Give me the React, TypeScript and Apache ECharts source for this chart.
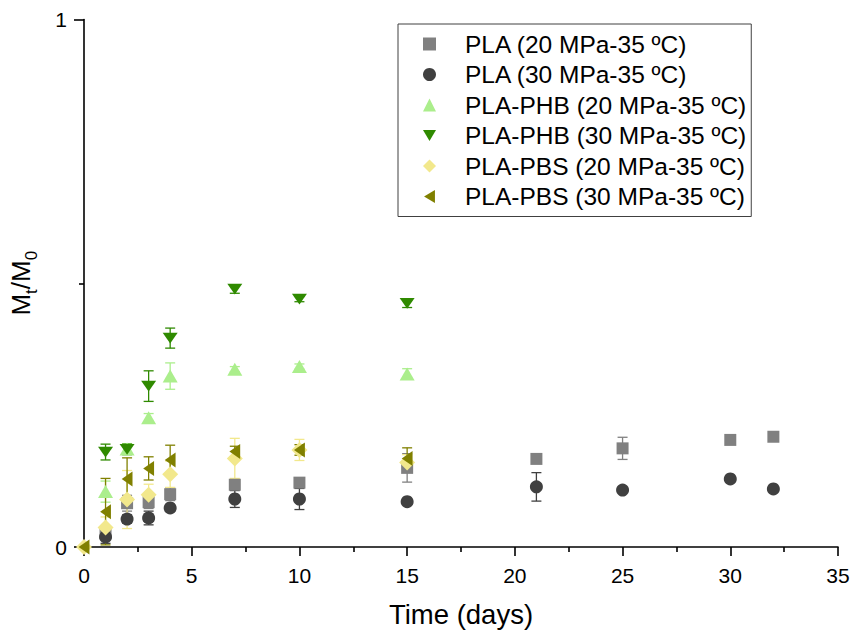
import React, { useEffect, useRef } from "react";
import * as echarts from "echarts";

const FONT = '"Liberation Sans", Arial, Helvetica, sans-serif';

// Times (days)
const timePLA = [1, 2, 3, 4, 7, 10, 15, 21, 25, 30, 32];
const timeBlend = [1, 2, 3, 4, 7, 10, 15];
const timePBS = [0, 1, 2, 3, 4, 7, 10, 15];

// Series values (Mt/M0) and error bars
const pla20 = [0.027, 0.083, 0.085, 0.1, 0.118, 0.122, 0.15, 0.167, 0.187, 0.203, 0.209];
const pla20Err = [0.01, 0.015, 0.012, 0.012, 0.005, 0.005, 0.027, 0.003, 0.021, 0.003, 0.005];

const pla30 = [0.019, 0.053, 0.055, 0.074, 0.091, 0.091, 0.086, 0.114, 0.108, 0.129, 0.11];
const pla30Err = [0.012, 0.008, 0.013, 0.005, 0.016, 0.02, 0.005, 0.027, 0.004, 0.005, 0.004];

const phb20 = [0.105, 0.186, 0.245, 0.324, 0.337, 0.342, 0.328];
const phb20Err = [0.02, 0.01, 0.008, 0.025, 0.005, 0.005, 0.01];

const phb30 = [0.18, 0.185, 0.305, 0.396, 0.489, 0.47, 0.462];
const phb30Err = [0.015, 0.01, 0.029, 0.019, 0.008, 0.005, 0.008];

const pbs20 = [0, 0.037, 0.09, 0.099, 0.138, 0.168, 0.184, 0.16];
const pbs20Err = [0, 0.02, 0.055, 0.02, 0.025, 0.038, 0.02, 0.015];

const pbs30 = [0, 0.067, 0.129, 0.149, 0.165, 0.181, 0.184, 0.168];
const pbs30Err = [0, 0.063, 0.04, 0.022, 0.028, 0.01, 0.01, 0.02];

const seriesNames = [
  "PLA (20 MPa-35 ºC)",
  "PLA (30 MPa-35 ºC)",
  "PLA-PHB (20 MPa-35 ºC)",
  "PLA-PHB (30 MPa-35 ºC)",
  "PLA-PBS (20 MPa-35 ºC)",
  "PLA-PBS (30 MPa-35 ºC)",
];

const xTicks = { min: 0, max: 35, interval: 5 };
const yTicks = { min: 0, max: 1, interval: 1 };

const TRI_DOWN = "path://M0,0 L12,0 L6,10 Z";
const TRI_LEFT = "path://M10,0 L10,12 L0,6 Z";

function buildSeries(
  name: string,
  times: number[],
  vals: number[],
  errs: number[],
  color: string,
  symbol: string,
  size: number | number[]
) {
  const errData: number[][] = [];
  times.forEach((t, i) => {
    if (errs[i] > 0) errData.push([t, vals[i] - errs[i], vals[i] + errs[i]]);
  });
  const err = {
    type: "custom",
    name: name + " err",
    clip: false,
    data: errData,
    encode: { x: 0, y: [1, 2] },
    renderItem: (params: any, api: any) => {
      const x = api.value(0);
      const lo = api.coord([x, api.value(1)]);
      const hi = api.coord([x, api.value(2)]);
      const hw = 5;
      const st = { stroke: color, lineWidth: 1.3 };
      return {
        type: "group",
        children: [
          { type: "line", shape: { x1: lo[0], y1: lo[1], x2: hi[0], y2: hi[1] }, style: st },
          { type: "line", shape: { x1: lo[0] - hw, y1: lo[1], x2: lo[0] + hw, y2: lo[1] }, style: st },
          { type: "line", shape: { x1: hi[0] - hw, y1: hi[1], x2: hi[0] + hw, y2: hi[1] }, style: st },
        ],
      };
    },
  };
  const sc = {
    type: "scatter",
    name,
    symbol,
    symbolSize: size,
    symbolKeepAspect: true,
    itemStyle: { color, opacity: 1 },
    data: times.map((t, i) => [t, vals[i]]),
    clip: false,
  };
  return [err, sc];
}

export default function App() {
  const ref = useRef<HTMLDivElement>(null);
  useEffect(() => {
    if (!ref.current) return;
    const chart = echarts.init(ref.current, undefined, { renderer: "svg" });
    const series = [
      ...buildSeries(seriesNames[0], timePLA, pla20, pla20Err, "#808080", "rect", 12),
      ...buildSeries(seriesNames[1], timePLA, pla30, pla30Err, "#404040", "circle", 13),
      ...buildSeries(seriesNames[2], timeBlend, phb20, phb20Err, "#abee8c", "triangle", [15, 13]),
      ...buildSeries(seriesNames[3], timeBlend, phb30, phb30Err, "#2f8a00", TRI_DOWN, [15, 13]),
      ...buildSeries(seriesNames[4], timePBS, pbs20, pbs20Err, "#f2e88c", "diamond", 16),
      ...buildSeries(seriesNames[5], timePBS, pbs30, pbs30Err, "#808000", TRI_LEFT, [13, 15]),
    ];
    const axisLine = { show: true, lineStyle: { color: "#000", width: 1.6 } };
    chart.setOption({
      animation: false,
      backgroundColor: "#fff",
      grid: { left: 77.5, right: 21, top: 19.5, bottom: 95, containLabel: false },
      legend: {
        data: seriesNames,
        orient: "vertical",
        left: 398,
        top: 24,
        padding: [7.5, 5, 7.5, 25],
        itemGap: 5.5,
        itemWidth: 13,
        itemHeight: 13,
        symbolKeepAspect: true,
        borderColor: "#404040",
        borderWidth: 1,
        selectedMode: false,
        textStyle: {
          fontSize: 24.5,
          fontFamily: FONT,
          color: "#000",
          padding: [0, 0, 0, 24],
        },
      },
      xAxis: {
        type: "value",
        min: xTicks.min,
        max: xTicks.max,
        interval: xTicks.interval,
        name: "Time (days)",
        nameLocation: "middle",
        nameGap: 53,
        nameTextStyle: { fontSize: 27.5, fontFamily: FONT, color: "#000" },
        axisLine,
        axisTick: { show: true, length: 9, lineStyle: { color: "#000", width: 1.6 } },
        minorTick: { show: true, splitNumber: 2, length: 5, lineStyle: { color: "#000", width: 1.6 } },
        splitLine: { show: false },
        minorSplitLine: { show: false },
        axisLabel: { fontSize: 21, fontFamily: FONT, color: "#000", margin: 18 },
      },
      yAxis: {
        type: "value",
        min: yTicks.min,
        max: yTicks.max,
        interval: yTicks.interval,
        name: "{a|M}{b|t}{a|/M}{b|0}",
        nameLocation: "middle",
        nameRotate: 90,
        nameGap: 44,
        nameTextStyle: {
          fontSize: 26,
          fontFamily: FONT,
          color: "#000",
          rich: {
            a: { fontSize: 26, fontFamily: FONT, color: "#000", padding: [0, 0, 6, 0] },
            b: { fontSize: 17, fontFamily: FONT, color: "#000", verticalAlign: "bottom" },
          },
        },
        axisLine,
        axisTick: { show: true, length: 10, lineStyle: { color: "#000", width: 1.6 } },
        minorTick: { show: true, splitNumber: 2, length: 5, lineStyle: { color: "#000", width: 1.6 } },
        splitLine: { show: false },
        minorSplitLine: { show: false },
        axisLabel: { fontSize: 21, fontFamily: FONT, color: "#000", margin: 17 },
      },
      series,
    });
    return () => chart.dispose();
  }, []);
  return (
    <div
      ref={ref}
      style={{ position: "absolute", left: 0, top: 0, width: 859, height: 642 }}
    />
  );
}
